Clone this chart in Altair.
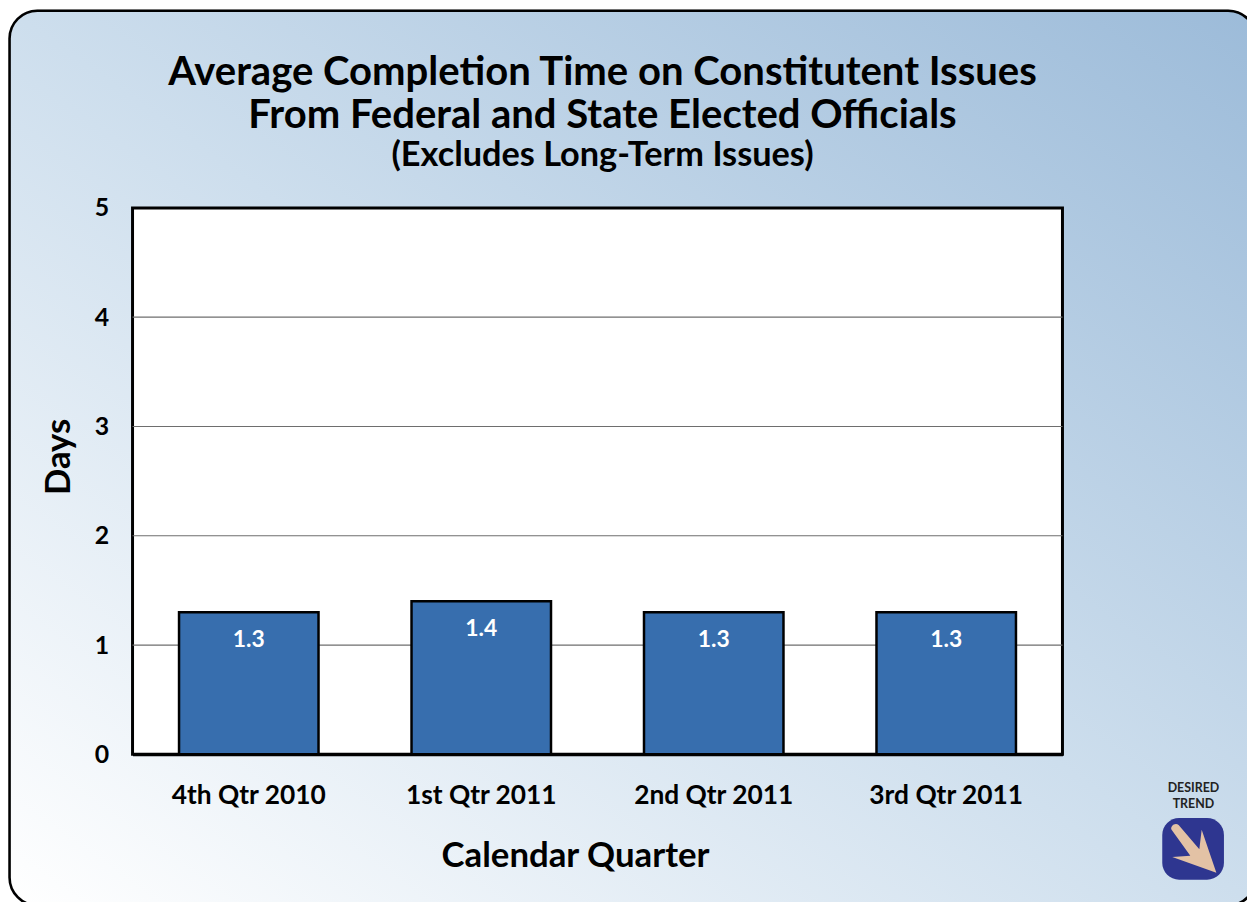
import altair as alt
import pandas as pd

quarters = ["4th Qtr 2010", "1st Qtr 2011", "2nd Qtr 2011", "3rd Qtr 2011"]
days = [1.3, 1.4, 1.3, 1.3]
bar_labels = ["1.3", "1.4", "1.3", "1.3"]
grid_values = [1, 2, 3, 4]
title_lines = ["Average Completion Time on Constitutent Issues", "From Federal and State Elected Officials", "(Excludes Long-Term Issues)"]
title_sizes = [40.3, 40.3, 34.5]
title_base = [85, 128, 166]
trend_lines = ["DESIRED", "TREND"]
trend_base = [792, 808]

FONT = "Lato"
S = 1255 / 1263
SVG_W, SVG_H = 1247, 894
W, H = 930 / S, 546.5 / S
LEFT, TOP = 132.5 / S - 8, 205 / S - 8


def px(v):
    return (v - 132.5) / S


def py(v):
    return (v - 207.5) / S


bars_df = pd.DataFrame({"quarter": quarters, "days": days, "label": bar_labels})
grid_df = pd.DataFrame({"v": grid_values})
one = pd.DataFrame({"a": [0]})
trend_df = pd.DataFrame({"t": trend_lines, "yy": [py(v) for v in trend_base]})
title_df = pd.DataFrame({"t": title_lines, "yy": [py(v) for v in title_base], "fs": title_sizes})

gradient = alt.LinearGradient(
    gradient="linear", x1=1, y1=0, x2=0, y2=1,
    stops=[
        alt.GradientStop(offset=0, color="#9cbbd9"),
        alt.GradientStop(offset=0.5, color="#cddeed"),
        alt.GradientStop(offset=1, color="#ffffff"),
    ],
)

shadow = alt.Chart(one).mark_rect(cornerRadius=28, color="#999999", opacity=0.5).encode(
    x=alt.value(px(9)), x2=alt.value(px(1256)), y=alt.value(py(9)), y2=alt.value(py(905)),
)
frame = alt.Chart(one).mark_rect(cornerRadius=28, color=gradient, stroke="black", strokeWidth=2.6).encode(
    x=alt.value(px(9.5)), x2=alt.value(px(1256)), y=alt.value(py(10.3)), y2=alt.value(py(905)),
)
plot_bg = alt.Chart(one).mark_rect(color="white", stroke="black", strokeWidth=3).encode(
    x=alt.value(0), x2=alt.value(W), y=alt.value(0), y2=alt.value(H)
)

y_scale = alt.Scale(domain=[0, 5], nice=False)
x_scale = alt.Scale(domain=quarters, paddingInner=0.4, paddingOuter=0.2)

grid = alt.Chart(grid_df).mark_rule(color="#6e6e6e", strokeWidth=1.2).encode(
    y=alt.Y("v:Q", scale=y_scale, title="Days"),
)

x_axis = alt.Axis(
    title="Calendar Quarter", titleFontSize=35, titleFont=FONT, titleFontWeight="bold", titleColor="black",
    titleX=px(575), titleY=(866 - 754) / S, titleBaseline="alphabetic",
    labelFontSize=26.5, labelFont=FONT, labelFontWeight="bold", labelColor="black", labelAngle=0, labelPadding=28,
    ticks=False, domainColor="black", domainWidth=3, zindex=1,
)
y_axis = alt.Axis(
    title="Days", titleFontSize=35, titleFont=FONT, titleFontWeight="bold", titleColor="black",
    titleX=px(69), titleY=py(456), titleBaseline="alphabetic",
    labelFontSize=25, labelFont=FONT, labelFontWeight="bold", labelColor="black", labelPadding=24,
    ticks=False, domain=False, grid=False, values=[0, 1, 2, 3, 4, 5], format="d", zindex=1,
)

bars = alt.Chart(bars_df).mark_bar(color="#376eae", stroke="black", strokeWidth=2.5).encode(
    x=alt.X("quarter:N", sort=quarters, scale=x_scale, axis=x_axis),
    y=alt.Y("days:Q", scale=y_scale, axis=y_axis),
)

labels = alt.Chart(bars_df).mark_text(
    color="white", font=FONT, fontSize=23, fontWeight="bold", baseline="top", dy=16.5
).encode(
    x=alt.X("quarter:N", sort=quarters, scale=x_scale),
    y=alt.Y("days:Q", scale=y_scale),
    text="label:N",
)

title_text = alt.Chart(title_df).mark_text(
    font=FONT, fontWeight="bold", color="black", align="center", baseline="alphabetic"
).encode(
    x=alt.value(px(602.5)), y=alt.Y("yy:Q", scale=None), text="t:N",
    size=alt.Size("fs:Q", scale=None, legend=None),
)

trend_text = alt.Chart(trend_df).mark_text(
    font=FONT, fontSize=12.5, fontWeight="bold", color="#222222", align="center", baseline="alphabetic"
).encode(x=alt.value(px(1193.5)), y=alt.Y("yy:Q", scale=None), text="t:N")

icon_box = alt.Chart(one).mark_rect(color="#2e3690", cornerRadius=17).encode(
    x=alt.value(px(1162.3)), x2=alt.value(px(1224)), y=alt.value(py(817.7)), y2=alt.value(py(879.3))
)
ARROW = ("M -0.686 -0.6 C -0.78 -0.72 -0.58 -0.88 -0.47 -0.773 L 0.2 0.016 L 0.276 -0.622 "
         "L 0.751 0.773 L -0.676 0.265 L -0.092 0.222 Z")
icon_arrow = alt.Chart(one).mark_point(
    shape=ARROW, filled=True, color="#e3c2a5", opacity=1, size=(61.8 / S) ** 2, strokeWidth=0
).encode(x=alt.value(px(1193.2)), y=alt.value(py(848.5)))

chart = alt.layer(
    shadow, frame, plot_bg, grid, bars, labels, title_text, trend_text, icon_box, icon_arrow
).properties(
    width=W, height=H,
    padding={"left": LEFT, "top": TOP, "right": SVG_W - LEFT - W, "bottom": SVG_H - TOP - H},
    autosize=alt.AutoSizeParams(type="none", contains="content"),
    background="white",
).configure_view(strokeWidth=0)

chart.save("out.html", embed_options={"renderer": "svg", "actions": False})
